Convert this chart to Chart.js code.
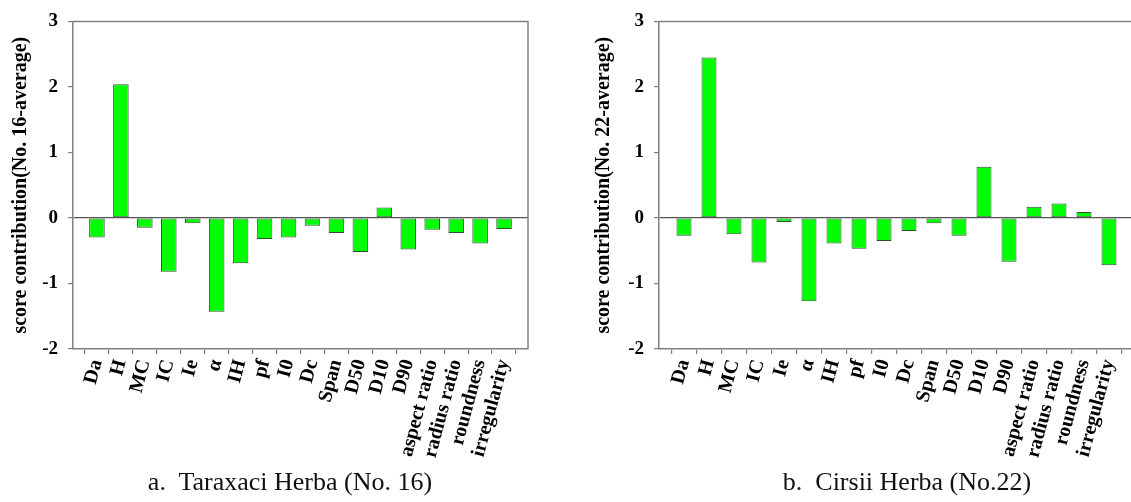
<!DOCTYPE html>
<html>
<head>
<meta charset="utf-8">
<script src="https://cdn.jsdelivr.net/npm/chart.js@4.4.1/dist/chart.umd.min.js"></script>
<style>
  html, body { margin: 0; padding: 0; background: #fff; overflow: hidden; width: 1131px; height: 502px; }
  .wrap { position: absolute; top: 0; }
  .cap { position: absolute; font-family: "Liberation Serif", "Times New Roman", serif; font-size: 26px; color: #111; line-height: 1; white-space: pre; transform: translateX(-50%); }
</style>
</head>
<body>
<div class="wrap" style="left:0px;width:560px;height:470px;"><canvas id="c1" width="560" height="470"></canvas></div>
<div class="wrap" style="left:560px;width:580px;height:470px;"><canvas id="c2" width="580" height="470"></canvas></div>
<div class="cap" style="left:290px;top:469px;">a.  Taraxaci Herba (No. 16)</div>
<div class="cap" style="left:907px;top:469px;">b.  Cirsii Herba (No.22)</div>
<script>
const categories = ['Da','H','MC','IC','Ie','\u03b1','IH','pf','I0','Dc','Span','D50','D10','D90','aspect ratio','radius ratio','roundness','irregularity'];
const taraxaciValues = [-0.30, 2.04, -0.15, -0.82, -0.08, -1.43, -0.69, -0.32, -0.30, -0.12, -0.23, -0.52, 0.16, -0.48, -0.18, -0.23, -0.39, -0.17];
const cirsiiValues = [-0.27, 2.45, -0.25, -0.68, -0.06, -1.27, -0.39, -0.47, -0.35, -0.20, -0.08, -0.27, 0.78, -0.67, 0.17, 0.22, 0.09, -0.72];
const yTickValues = [-2, -1, 0, 1, 2, 3];
const yTitles = ['score contribution(No. 16-average)', 'score contribution(No. 22-average)'];

const SERIF = '"Liberation Serif", "Times New Roman", serif';
const AXIS = '#808080';

const framePlugin = {
  id: 'frame',
  beforeDatasetsDraw(chart) {
    const a = chart.chartArea, ctx = chart.ctx;
    ctx.save();
    ctx.strokeStyle = AXIS;
    ctx.lineWidth = 1.5;
    ctx.beginPath();
    ctx.moveTo(a.left, a.top);
    ctx.lineTo(a.right, a.top);
    ctx.lineTo(a.right, a.bottom);
    ctx.stroke();
    ctx.restore();
  }
};

function makeChart(id, values, title, cfg) {
  const labels = [''].concat(categories, ['']);
  const data = [null].concat(values, [null]);
  return new Chart(document.getElementById(id), {
    type: 'bar',
    data: {
      labels: labels,
      datasets: [{
        data: data,
        backgroundColor: '#00ff00',
        borderColor: '#2f4f2f',
        borderWidth: 1,
        borderSkipped: false,
        categoryPercentage: 1,
        barPercentage: cfg.barPct
      }]
    },
    options: {
      responsive: false,
      animation: false,
      events: [],
      layout: { padding: { left: cfg.padLeft, top: 21, right: cfg.padRight, bottom: 0 } },
      plugins: { legend: { display: false }, tooltip: { enabled: false } },
      scales: {
        x: {
          type: 'category',
          offset: false,
          grid: { drawOnChartArea: false, drawTicks: true, tickLength: 5, tickColor: AXIS, lineWidth: 1.2 },
          border: { display: true, color: AXIS, width: 1.5 },
          ticks: {
            autoSkip: false, maxRotation: 75, minRotation: 75, padding: 3,
            color: '#000', font: { family: SERIF, size: 20, weight: 'bold' }
          },
          afterFit(scale) {
            scale.height = 470 - 349;
            scale.paddingLeft = 0;
            scale.paddingRight = 0;
          }
        },
        y: {
          min: -2, max: 3,
          afterBuildTicks(scale) { scale.ticks = yTickValues.map(v => ({ value: v })); },
          grid: {
            drawOnChartArea: true, drawTicks: true, tickLength: 5,
            color: (c) => (c.tick && c.tick.value === 0) ? '#555555' : 'rgba(0,0,0,0)',
            tickColor: AXIS, lineWidth: 1.2
          },
          border: { display: true, color: AXIS, width: 1.5 },
          ticks: {
            padding: 10, color: '#000',
            font: { family: SERIF, size: 19, weight: 'bold' },
            callback: (v) => String(v)
          },
          title: {
            display: true, text: title, color: '#000',
            font: { family: SERIF, size: 20, weight: 'bold' },
            padding: { top: 3, bottom: 4 }
          },
          afterFit(scale) { scale.width = cfg.yWidth; }
        }
      }
    },
    plugins: [framePlugin]
  });
}

makeChart('c1', taraxaciValues, yTitles[0], { padLeft: 6, padRight: 32, yWidth: 67, barPct: 0.65 });
makeChart('c2', cirsiiValues, yTitles[1], { padLeft: 29, padRight: 6, yWidth: 70, barPct: 0.6 });
</script>
</body>
</html>
